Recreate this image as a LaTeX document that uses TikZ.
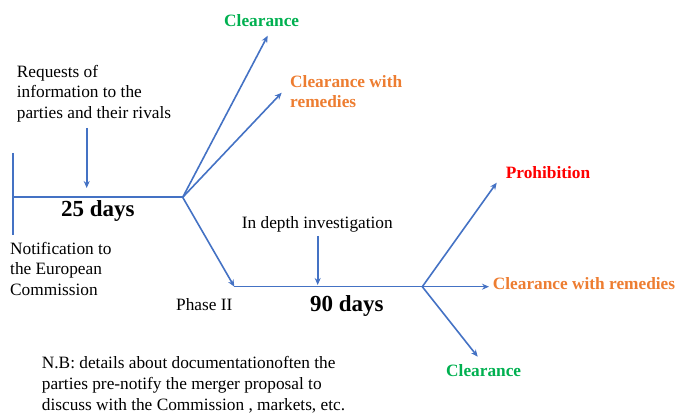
\documentclass[tikz,border=0pt]{standalone}
\usepackage{fontspec}
\setmainfont{Liberation Serif}
\usetikzlibrary{arrows.meta}
\definecolor{lineblue}{HTML}{4472C4}
\definecolor{cgreen}{HTML}{00B050}
\definecolor{corange}{HTML}{ED7D31}
\definecolor{cred}{HTML}{FF0000}
\tikzset{
  txt/.style={anchor=base west, inner sep=0pt, align=left, font=\fontsize{17.3}{20.7}\selectfont},
  btxt/.style={txt, font=\fontsize{17.3}{20.7}\selectfont\bfseries},
  bigtxt/.style={anchor=base west, inner sep=0pt, font=\fontsize{23}{26}\selectfont\bfseries},
  conn/.style={draw=lineblue, line width=1.6pt},
  arr/.style={conn, -{Stealth[length=7pt,width=6pt]}}
}
\begin{document}
\begin{tikzpicture}[x=1pt,y=-1pt]
\useasboundingbox (0,0) rectangle (675,414);
% coordinates
\coordinate (vtop) at (12.7,153);
\coordinate (vbot) at (12.7,235);
\coordinate (start) at (12.7,197.3);
\coordinate (b1) at (182.7,197.3);
\coordinate (reqs) at (86.7,128);
\coordinate (reqe) at (86.7,188);
\coordinate (t1) at (267.7,35.7);
\coordinate (t2) at (281.7,92.7);
\coordinate (p2) at (234.3,286.7);
\coordinate (b2) at (422.3,286.7);
\coordinate (ids) at (317.7,236);
\coordinate (ide) at (317.7,285);
\coordinate (t3) at (496.7,182.7);
\coordinate (t4) at (489,286.7);
\coordinate (t5) at (477.7,356.7);
% texts (multi-line nodes: base = last line)
\node[txt] (req) at (16.7,118.5) {Requests of\\information to the\\parties and their rivals};
\node[btxt, text=cgreen] (clr1) at (224,26.7) {Clearance};
\node[btxt, text=corange] (clrr1) at (290,108) {Clearance with\\remedies};
\node[bigtxt] (d25) at (61,216.7) {25 days};
\node[txt] (notif) at (10,295.7) {Notification to\\the European\\Commission};
\node[txt] (indepth) at (241.7,228.3) {In depth investigation};
\node[txt] (phase) at (176,310.7) {Phase II};
\node[bigtxt] (d90) at (310,311) {90 days};
\node[btxt, text=cred] (prohib) at (505.7,178.3) {Prohibition};
\node[btxt, text=corange] (clrr2) at (492.7,289.3) {Clearance with remedies};
\node[btxt, text=cgreen] (clr2) at (446,376) {Clearance};
\node[txt] (nb) at (41.7,410) {N.B: details about documentationoften the\\parties pre-notify the merger proposal to\\discuss with the Commission , markets, etc.};
% connectors
\draw[conn] (vtop) -- (vbot);
\draw[conn] (start) -- (b1);
\draw[arr] (reqs) -- (reqe);
\draw[arr] (b1) -- (t1);
\draw[arr] (b1) -- (t2);
\draw[arr] (b1) -- (p2);
\draw[conn] (p2) -- (b2);
\draw[arr] (ids) -- (ide);
\draw[arr] (b2) -- (t3);
\draw[arr] (b2) -- (t4);
\draw[arr] (b2) -- (t5);
\end{tikzpicture}
\end{document}
